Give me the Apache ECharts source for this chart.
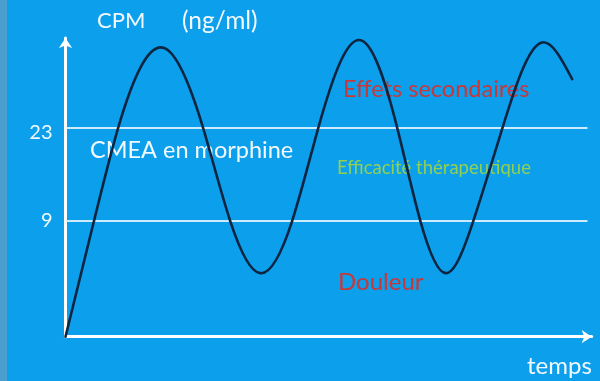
<!DOCTYPE html>
<html>
<head>
<meta charset="utf-8">
<style>
  html, body { margin: 0; padding: 0; background: #0b9fec; }
  #chart { width: 600px; height: 381px; }
</style>
<script src="https://cdn.jsdelivr.net/npm/echarts@6/dist/echarts.min.js"></script>
</head>
<body>
<div id="chart"></div>
<script>
// Morphine plasma concentration over time (schematic), with the
// therapeutic window between 9 and 23 ng/ml.
const timePoints = [0, 5.42, 9.99, 18.74, 26.16, 31.29, 36.99, 43.08,
  48.03, 56.34, 63.05, 67.43, 72.32, 77.51, 83.03, 90.39, 96.29];
const concentration = [-8.5, 9.0, 23, 35.1, 23, 9.0, 1.1, 9.0,
  23, 36.2, 23, 9.0, 1.1, 9.0, 23, 35.9, 30.4];
const thresholds = [23, 9];   // upper (CMEA) and lower limits, ng/ml
const thresholdEnd = 99.2;

const font = 'Lato, "Open Sans", sans-serif';
const white = '#f2f9ff';
const red = '#c8383a';
const green = '#92d050';

// Natural cubic spline through pixel points (x increasing), returned as SVG path data.
function splinePath(pts) {
  const n = pts.length - 1;
  const h = [], d = [];
  for (let i = 0; i < n; i++) {
    h[i] = pts[i + 1][0] - pts[i][0];
    d[i] = (pts[i + 1][1] - pts[i][1]) / h[i];
  }
  // Solve for second derivatives M (M0 = Mn = 0)
  const a = [], b = [], c = [], r = [];
  for (let i = 1; i < n; i++) {
    a[i] = h[i - 1]; b[i] = 2 * (h[i - 1] + h[i]); c[i] = h[i];
    r[i] = 6 * (d[i] - d[i - 1]);
  }
  const M = new Array(n + 1).fill(0);
  const cp = [], rp = [];
  for (let i = 1; i < n; i++) {
    const den = b[i] - (i > 1 ? a[i] * cp[i - 1] : 0);
    cp[i] = c[i] / den;
    rp[i] = (r[i] - (i > 1 ? a[i] * rp[i - 1] : 0)) / den;
  }
  for (let i = n - 1; i >= 1; i--) {
    M[i] = rp[i] - cp[i] * (i < n - 1 ? M[i + 1] : 0);
  }
  const slope = [];
  for (let i = 0; i < n; i++) slope[i] = d[i] - h[i] * (2 * M[i] + M[i + 1]) / 6;
  slope[n] = d[n - 1] + h[n - 1] * (M[n - 1] + 2 * M[n]) / 6;
  let path = 'M' + pts[0][0] + ' ' + pts[0][1];
  for (let i = 0; i < n; i++) {
    const k = h[i] / 3;
    path += ' C' + (pts[i][0] + k) + ' ' + (pts[i][1] + slope[i] * k) + ' ' +
      (pts[i + 1][0] - k) + ' ' + (pts[i + 1][1] - slope[i + 1] * k) + ' ' +
      pts[i + 1][0] + ' ' + pts[i + 1][1];
  }
  return path;
}

const chart = echarts.init(document.getElementById('chart'), null, { renderer: 'canvas' });

chart.setOption({
  backgroundColor: '#0b9fec',
  animation: false,
  grid: { left: 65.5, right: 8.3, top: 38, bottom: 44.3 },
  xAxis: {
    type: 'value',
    min: 0,
    max: 100,
    axisLine: { show: true, onZero: false, symbol: ['none', 'arrow'], symbolSize: [10, 10],
      lineStyle: { color: '#ffffff', width: 3 } },
    axisTick: { show: false },
    axisLabel: { show: false },
    splitLine: { show: false }
  },
  yAxis: {
    type: 'value',
    min: -8.5,
    max: 36.6,
    axisLine: { show: true, onZero: false, symbol: ['none', 'arrow'], symbolSize: [10, 10],
      lineStyle: { color: '#ffffff', width: 3 } },
    axisTick: { show: false },
    axisLabel: {
      show: true, customValues: thresholds, margin: 13,
      color: white, fontSize: 20, fontFamily: font,
      formatter: v => (v === 23 ? '{low|' + v + '}' : '{n|' + v + '}'),
      rich: {
        low: { color: white, fontSize: 20, fontFamily: font, padding: [8, 0, 0, 0] },
        n: { color: white, fontSize: 20, fontFamily: font }
      }
    },
    splitLine: { show: false }
  },
  graphic: [
    { type: 'rect', shape: { x: 0, y: 0, width: 7, height: 381 }, style: { fill: '#4a9fd0' }, z: 0 },
    { type: 'text', left: 97, top: 10, z: 0, style: { text: 'CPM', fill: white, font: '22px ' + font } },
    { type: 'text', left: 182, top: 9, z: 0, style: { text: '(ng/ml)', fill: white, font: '24.5px ' + font } },
    { type: 'text', left: 90, top: 138, z: 0, style: { text: 'CMEA en morphine', fill: white, font: '23.5px ' + font } },
    { type: 'text', left: 343, top: 77, z: 0, style: { text: 'Effets secondaires', fill: red, font: '23.5px ' + font } },
    { type: 'text', left: 337, top: 159, z: 0, style: { text: 'Efficacité thérapeutique', fill: green, font: '18.5px ' + font } },
    { type: 'text', left: 338, top: 270, z: 0, style: { text: 'Douleur', fill: red, font: '24px ' + font } },
    { type: 'text', left: 527, top: 354, z: 0, style: { text: 'temps', fill: white, font: '24px ' + font } }
  ],
  series: [
    {
      // Threshold lines at 23 and 9 ng/ml
      type: 'line',
      data: [],
      markLine: {
        silent: true,
        symbol: ['none', 'none'],
        label: { show: false },
        lineStyle: { color: 'rgba(225,243,255,0.9)', width: 2, type: 'solid' },
        data: thresholds.map(v => [{ coord: [0, v] }, { coord: [thresholdEnd, v] }])
      }
    },
    {
      // Concentration curve, drawn as one smooth spline through the data points
      type: 'custom',
      z: 5,
      clip: false,
      data: timePoints.map((t, i) => [t, concentration[i]]),
      renderItem: function (params, api) {
        if (params.dataIndex !== 0) return null;
        const pts = timePoints.map((t, i) => api.coord([t, concentration[i]]));
        return {
          type: 'path',
          shape: { pathData: splinePath(pts) },
          style: { fill: 'none', stroke: '#0d2540', lineWidth: 2.6, lineJoin: 'round', lineCap: 'round' }
        };
      }
    }
  ]
});
</script>
</body>
</html>
